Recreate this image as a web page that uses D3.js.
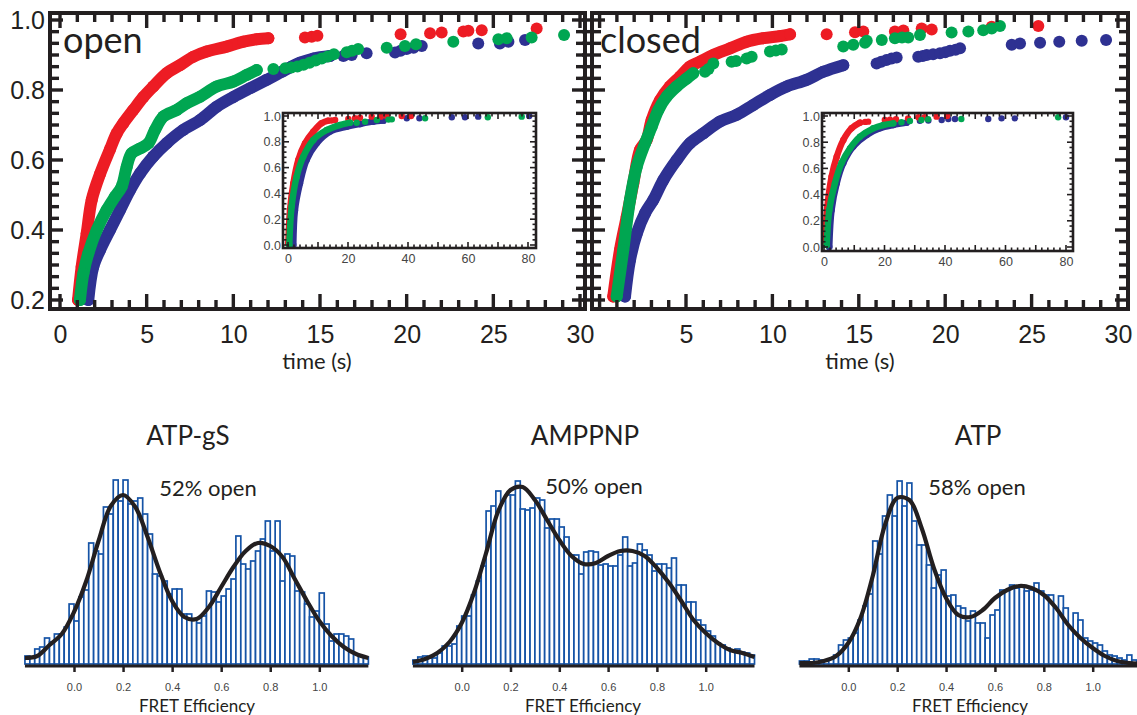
<!DOCTYPE html>
<html><head><meta charset="utf-8">
<script src="https://cdn.jsdelivr.net/npm/d3@7"></script>
<style>body{margin:0;background:#fff}svg{display:block}</style>
</head><body>
<svg id="c" width="1137" height="715"></svg>
<script>
// ---------------- DATA ----------------
const mainTicksX = [0,5,10,15,20,25,30];
const mainTicksXRight = [5,10,15,20,25,30];
const mainTicksY = [0.2,0.4,0.6,0.8,1.0];
const insetTicksX = [0,20,40,60,80];
const insetTicksY = [0.0,0.2,0.4,0.6,0.8,1.0];
const histTicks = [0.0,0.2,0.4,0.6,0.8,1.0];
const panelLabels = ["open","closed"];
const histTitles = ["ATP-gS","AMPPNP","ATP"];
const histOpenLabels = ["52% open","50% open","58% open"];

// cumulative fraction vs time (s): dense part ("trace") and isolated points ("dots")
const openRedTrace = [[1.04,0.20],[1.25,0.295],[1.54,0.39],[1.83,0.486],[2.31,0.56],[2.88,0.63],[3.27,0.676],[3.65,0.705],[4.23,0.743],[4.81,0.78],[5.38,0.81],[6.15,0.848],[6.92,0.871],[7.69,0.895],[8.46,0.91],[9.62,0.924],[10.58,0.938],[11.35,0.945],[12.02,0.948]];
const openRedDots = [[14.13,0.95],[14.52,0.952],[14.85,0.955],[19.65,0.959],[21.35,0.962],[22.02,0.964],[23.27,0.967],[23.56,0.969],[24.33,0.971],[27.5,0.976]];
const openBlueTrace = [[1.63,0.2],[1.92,0.295],[2.31,0.343],[2.88,0.4],[3.46,0.457],[4.04,0.514],[4.62,0.562],[5.38,0.61],[6.15,0.648],[7.11,0.686],[8.08,0.714],[9.04,0.752],[10.0,0.78],[10.96,0.805],[11.92,0.829],[12.8,0.852],[13.3,0.865],[13.85,0.878],[14.62,0.89],[15.58,0.897]];
const openBlueDots = [[16.35,0.897],[16.83,0.9],[17.69,0.905],[19.33,0.907],[19.65,0.912],[20.0,0.917],[20.4,0.921],[20.87,0.926],[24.13,0.933],[25.38,0.933],[25.87,0.938],[26.83,0.943]];
const openGreenTrace = [[1.15,0.2],[1.35,0.276],[1.63,0.333],[2.12,0.4],[2.69,0.457],[3.17,0.495],[3.56,0.524],[3.85,0.581],[4.13,0.619],[4.62,0.633],[5.1,0.648],[5.48,0.686],[5.96,0.724],[6.73,0.743],[7.31,0.762],[8.08,0.781],[9.04,0.81],[10.0,0.824],[10.77,0.843],[11.35,0.857]];
const openGreenDots = [[12.31,0.86],[13.0,0.862],[13.35,0.864],[13.7,0.867],[14.05,0.872],[14.4,0.878],[14.75,0.884],[15.1,0.89],[15.45,0.896],[15.8,0.902],[16.54,0.908],[16.85,0.912],[17.2,0.917],[18.85,0.921],[19.9,0.926],[20.54,0.931],[22.69,0.938],[25.29,0.945],[25.77,0.948],[27.21,0.95],[29.08,0.957]];

const closedRedTrace = [[0.79,0.21],[1.18,0.343],[1.57,0.438],[1.95,0.533],[2.34,0.629],[2.72,0.657],[3.01,0.714],[3.5,0.771],[4.07,0.81],[4.65,0.838],[5.23,0.867],[5.81,0.881],[6.58,0.9],[7.55,0.919],[8.51,0.938],[9.47,0.948],[10.44,0.954],[11.02,0.959]];
const closedRedDots = [[13.14,0.959],[14.78,0.965],[15.26,0.967],[17.09,0.967],[17.58,0.97],[18.64,0.976],[19.22,0.973],[22.69,0.981],[25.39,0.983]];
const closedGreenTrace = [[0.99,0.21],[1.37,0.343],[1.76,0.486],[2.15,0.581],[2.63,0.648],[3.01,0.695],[3.4,0.743],[3.88,0.781],[4.46,0.81],[5.04,0.833],[5.42,0.848]];
const closedGreenDots = [[6.1,0.852],[6.3,0.86],[6.58,0.876],[7.64,0.881],[7.9,0.883],[8.51,0.89],[8.8,0.895],[9.86,0.91],[10.2,0.913],[10.54,0.916],[14.1,0.924],[14.68,0.929],[15.36,0.935],[15.46,0.941],[16.33,0.943],[17.09,0.948],[17.5,0.95],[17.86,0.95],[18.54,0.957],[20.37,0.964],[21.34,0.967],[22.2,0.971],[22.69,0.976],[23.17,0.983]];
const closedBlueTrace = [[1.47,0.21],[1.76,0.314],[2.15,0.39],[2.63,0.448],[3.11,0.486],[3.69,0.543],[4.46,0.6],[5.23,0.648],[6.0,0.676],[6.97,0.71],[7.93,0.729],[8.89,0.757],[9.86,0.786],[10.83,0.81],[11.98,0.829],[12.94,0.852],[14.1,0.871]];
const closedBlueDots = [[16.03,0.876],[16.3,0.881],[16.6,0.886],[16.9,0.89],[17.19,0.893],[18.44,0.895],[18.7,0.897],[18.93,0.9],[19.3,0.902],[19.7,0.905],[20.0,0.908],[20.28,0.912],[20.6,0.915],[20.86,0.919],[23.85,0.929],[24.33,0.933],[25.49,0.935],[26.6,0.938],[27.9,0.941],[29.31,0.943]];

// insets (0-80 s)
const openInRedTrace = [[0.1,0.013],[0.67,0.271],[1.78,0.478],[3.44,0.659],[5.67,0.788],[8.44,0.879],[11.2,0.944],[13.4,0.964]];
const openInRedDots = [[14.5,0.965],[15.7,0.969],[20.1,0.977],[22.3,0.982],[24.0,0.987],[27.9,0.995],[30.9,0.995],[32.9,1.0],[37.9,1.0],[41.0,1.0]];
const openInBlueTrace = [[1.78,0.0],[2.33,0.27],[4.0,0.478],[6.2,0.659],[9.56,0.788],[14.0,0.879],[19.6,0.917],[24.0,0.938],[28.4,0.956],[31.8,0.964]];
const openInBlueDots = [[39.6,0.982],[43.8,0.982],[54.6,0.99],[59.0,0.99],[63.4,0.995],[80.4,1.0]];
const openInGreenTrace = [[0.43,0.0],[1.22,0.3],[2.89,0.53],[5.1,0.685],[8.44,0.814],[12.9,0.891],[17.3,0.93],[20.7,0.948]];
const openInGreenDots = [[22.9,0.948],[25.7,0.956],[29.6,0.969],[33.5,0.972],[34.6,0.974],[45.7,0.982],[66.6,0.99],[77.9,0.995]];

const closedInRedTrace = [[0.33,0.028],[1.1,0.307],[2.5,0.536],[4.2,0.689],[6.4,0.817],[9.1,0.906],[11.9,0.949]];
const closedInRedDots = [[13.6,0.955],[14.6,0.957],[20.1,0.969],[21.8,0.972],[23.8,0.975],[27.8,0.982],[31.2,0.99],[33.3,0.99],[37.2,0.995],[40.7,1.0]];
const closedInGreenTrace = [[0.9,0.015],[1.75,0.282],[3.6,0.486],[5.8,0.641],[8.6,0.753],[11.9,0.842],[16.3,0.906],[19.6,0.931],[22.9,0.944]];
const closedInGreenDots = [[25.6,0.952],[28.4,0.962],[32.2,0.969],[34.4,0.975],[45.4,0.977],[77.4,0.99]];
const closedInBlueTrace = [[1.75,0.0],[2.5,0.28],[4.2,0.486],[6.4,0.641],[9.7,0.768],[14.1,0.855],[18.5,0.906],[22.9,0.931],[27.3,0.949]];
const closedInBlueDots = [[31.7,0.964],[34.5,0.966],[38.9,0.969],[41.1,0.977],[43.3,0.977],[54.3,0.977],[58.7,0.982],[63.1,0.982],[80.0,0.99]];

// FRET histograms: bins of 0.02 from -0.2
const histStart = -0.2, histBin = 0.02;
const histATPgS = [8,7,15,17,26,22,30,30,37,60,43,67,74,121,113,110,157,150,184,163,184,160,163,166,150,130,90,88,83,70,75,75,50,50,45,41,48,73,72,62,68,75,85,128,100,95,103,113,125,143,113,143,83,110,108,73,72,60,47,53,71,40,23,30,30,28,25,10,8,7];
const histAMPPNP = [4,7,8,6,6,11,18,18,20,38,48,48,69,83,98,153,158,173,163,169,169,183,155,154,156,166,164,136,145,145,137,127,109,109,90,112,113,112,99,100,98,98,109,127,98,101,120,114,109,93,100,100,96,106,79,79,62,62,44,39,33,28,21,19,16,14,15,12,11,9];
const histATP = [3,3,5,5,4,4,5,9,19,24,26,31,44,58,70,123,110,148,169,148,183,158,181,143,119,119,99,76,89,94,68,69,58,56,43,53,41,41,26,49,54,74,74,79,76,79,73,74,81,73,69,69,56,68,56,36,51,44,26,23,21,19,13,9,8,6,4,9,4,3];
// fitted curves read at FRET = -0.2, -0.15, ..., 1.2
const fitX = [-0.2,-0.15,-0.1,-0.05,0.0,0.05,0.1,0.15,0.2,0.25,0.3,0.35,0.4,0.45,0.5,0.55,0.6,0.65,0.7,0.75,0.8,0.85,0.9,0.95,1.0,1.05,1.1,1.15,1.2];
const fitATPgS = [6,8,19,30,52,83,123,158,169,157,127,92,63,47,45,57,77,97,113,121,118,107,85,63,43,28,17,10,6];
const fitAMPPNP = [2,5,11,22,41,71,111,153,174,177,164,144,124,108,100,101,108,113,113,108,96,81,63,44,31,21,14,11,7];
const fitATP = [1,1,3,8,21,46,88,139,166,164,136,96,66,49,47,54,66,74,78,76,69,56,39,26,16,8,3,1,0];

// ---------------- DRAWING ----------------
const svg = d3.select("#c");
const INK = "#231f20";
const COL = {red:"#ed1c24", green:"#00a651", blue:"#2e3192"};
const NUMF = "'Liberation Sans', Arial, sans-serif";
const TXTF = "Lato, 'Open Sans', sans-serif";

function seriesDraw(g, x, y, trace, dots, color, r){
  const line = d3.line().x(d=>x(d[0])).y(d=>y(d[1])).curve(d3.curveCatmullRom);
  g.append("path").attr("d", line(trace)).attr("fill","none").attr("stroke",color)
    .attr("stroke-width", 2*r).attr("stroke-linecap","round").attr("stroke-linejoin","round");
  g.selectAll(null).data(trace.concat(dots)).enter().append("circle")
    .attr("cx",d=>x(d[0])).attr("cy",d=>y(d[1])).attr("r",r).attr("fill",color);
}

function mainPanel(cfg){
  const g = svg.append("g");
  const x = d3.scaleLinear().domain([0,30]).range(cfg.xr);
  const y = d3.scaleLinear().domain([0.2,1.0]).range([300,20]);
  const [fx0,fx1,fy0,fy1] = cfg.frame;
  const dg = g.append("g");
  cfg.series.forEach(s=>seriesDraw(dg,x,y,s[0],s[1],s[2],6));
  g.append("rect").attr("x",fx0).attr("y",fy0).attr("width",fx1-fx0).attr("height",fy1-fy0)
    .attr("fill","none").attr("stroke",INK).attr("stroke-width",4);
  const tg = g.append("g").attr("stroke",INK).attr("stroke-width",3.4);
  d3.range(0,31).forEach(v=>{
    const L = v%5===0?15:9;
    tg.append("line").attr("x1",x(v)).attr("x2",x(v)).attr("y1",fy1).attr("y2",fy1-L);
    tg.append("line").attr("x1",x(v)).attr("x2",x(v)).attr("y1",fy0).attr("y2",fy0+L);
  });
  d3.range(0,25).forEach(i=>{
    const v = 0.2 + i*0.2/6, L = i%6===0?13:9;
    tg.append("line").attr("x1",fx0-cfg.leftOut).attr("x2",fx0+L).attr("y1",y(v)).attr("y2",y(v));
    tg.append("line").attr("x1",fx1).attr("x2",fx1-L).attr("y1",y(v)).attr("y2",y(v));
  });
  const ax = g.append("g").attr("transform",`translate(0,${fy1})`)
    .call(d3.axisBottom(x).tickValues(cfg.xticks).tickSize(0).tickPadding(16).tickFormat(d3.format("d")));
  ax.select(".domain").remove();
  ax.selectAll("text").attr("font-family",NUMF).attr("font-size",25).attr("fill",INK);
  if (cfg.yLabels){
    const ay = g.append("g").attr("transform",`translate(${fx0},0)`)
      .call(d3.axisLeft(y).tickValues(mainTicksY).tickSize(0).tickPadding(5).tickFormat(d3.format(".1f")));
    ay.select(".domain").remove();
    ay.selectAll("text").attr("font-family",NUMF).attr("font-size",25).attr("fill",INK);
  }
  g.append("text").attr("x",cfg.xlab[0]).attr("y",cfg.xlab[1]).attr("text-anchor","middle")
    .attr("font-family",TXTF).attr("font-size",22).attr("fill",INK).text("time (s)");
  g.append("text").attr("x",cfg.name[0]).attr("y",cfg.name[1])
    .attr("font-family",TXTF).attr("font-size",36).attr("fill",INK).text(cfg.label);
  insetPanel(cfg.inset);
}

function insetPanel(c){
  const g = svg.append("g");
  const x = d3.scaleLinear().domain([0,80]).range(c.xr);
  const y = d3.scaleLinear().domain([0,1]).range(c.yr);
  const [fx0,fx1,fy0,fy1] = c.frame;
  g.append("rect").attr("x",fx0).attr("y",fy0).attr("width",fx1-fx0).attr("height",fy1-fy0).attr("fill","#fff");
  const dg = g.append("g");
  c.series.forEach(s=>seriesDraw(dg,x,y,s[0],s[1],s[2],3.2));
  g.append("rect").attr("x",fx0).attr("y",fy0).attr("width",fx1-fx0).attr("height",fy1-fy0)
    .attr("fill","none").attr("stroke",INK).attr("stroke-width",2.6);
  const tg = g.append("g").attr("stroke",INK).attr("stroke-width",1.6);
  d3.range(0,82,2).forEach(v=>{
    const L = v%10===0?6:3.5;
    tg.append("line").attr("x1",x(v)).attr("x2",x(v)).attr("y1",fy1).attr("y2",fy1-L);
    tg.append("line").attr("x1",x(v)).attr("x2",x(v)).attr("y1",fy0).attr("y2",fy0+L);
  });
  d3.range(0,26).forEach(i=>{
    const v=i*0.04, L = i%5===0?6:3.5;
    tg.append("line").attr("x1",fx0).attr("x2",fx0+L).attr("y1",y(v)).attr("y2",y(v));
    tg.append("line").attr("x1",fx1).attr("x2",fx1-L).attr("y1",y(v)).attr("y2",y(v));
  });
  const ax = g.append("g").attr("transform",`translate(0,${fy1})`)
    .call(d3.axisBottom(x).tickValues(insetTicksX).tickSize(0).tickPadding(6).tickFormat(d3.format("d")));
  ax.select(".domain").remove();
  ax.selectAll("text").attr("font-family",NUMF).attr("font-size",12.5).attr("fill","#444");
  const ay = g.append("g").attr("transform",`translate(${fx0},0)`)
    .call(d3.axisLeft(y).tickValues(insetTicksY).tickSize(0).tickPadding(2).tickFormat(d3.format(".1f")));
  ay.select(".domain").remove();
  ay.selectAll("text").attr("font-family",NUMF).attr("font-size",12.5).attr("fill","#444");
}

mainPanel({
  xr:[60,580], frame:[50,585,13,309], leftOut:0, yLabels:true, xticks:mainTicksX,
  xlab:[317,369], name:[63,53], label:panelLabels[0],
  series:[[openBlueTrace,openBlueDots,COL.blue],[openRedTrace,openRedDots,COL.red],[openGreenTrace,openGreenDots,COL.green]],
  inset:{xr:[288,528], yr:[245,116], frame:[283,536,113,248],
    series:[[openInBlueTrace,openInBlueDots,COL.blue],[openInRedTrace,openInRedDots,COL.red],[openInGreenTrace,openInGreenDots,COL.green]]}
});
mainPanel({
  xr:[599.6,1118], frame:[592,1128,13,309], leftOut:10, yLabels:false, xticks:mainTicksXRight,
  xlab:[860,369], name:[600,53], label:panelLabels[1],
  series:[[closedBlueTrace,closedBlueDots,COL.blue],[closedRedTrace,closedRedDots,COL.red],[closedGreenTrace,closedGreenDots,COL.green]],
  inset:{xr:[824,1066], yr:[247,116], frame:[822,1073,113,251],
    series:[[closedInBlueTrace,closedInBlueDots,COL.blue],[closedInRedTrace,closedInRedDots,COL.red],[closedInGreenTrace,closedInGreenDots,COL.green]]}
});

// histograms
const hists = [
  {counts:histATPgS, fit:fitATPgS, xr:[74,319.3], title:[188,445], pct:[208,496], xl:[197,712]},
  {counts:histAMPPNP, fit:fitAMPPNP, xr:[461.7,705.7], title:[585,445], pct:[594,494], xl:[583,712]},
  {counts:histATP, fit:fitATP, xr:[848.3,1092.7], title:[978,445], pct:[977,495], xl:[970,712]}
];
hists.forEach((h,i)=>{
  const g = svg.append("g");
  const x = d3.scaleLinear().domain([0,1]).range(h.xr);
  const y = d3.scaleLinear().domain([0,200]).range([664,464]);
  g.selectAll("rect").data(h.counts).enter().append("rect")
    .attr("x",(d,k)=>x(histStart+k*histBin)).attr("width",x(histBin)-x(0))
    .attr("y",d=>y(d)).attr("height",d=>y(0)-y(d))
    .attr("fill","#fff").attr("stroke","#1553a6").attr("stroke-width",1.7);
  g.append("line").attr("x1",x(-0.2)).attr("x2",x(1.2)).attr("y1",666).attr("y2",666)
    .attr("stroke",INK).attr("stroke-width",3);
  const fitPts = fitX.map((v,k)=>[v,h.fit[k]]);
  g.append("path").attr("d", d3.line().x(d=>x(d[0])).y(d=>y(d[1])).curve(d3.curveCatmullRom)(fitPts))
    .attr("fill","none").attr("stroke",INK).attr("stroke-width",4.2);
  const ax = g.append("g").attr("transform","translate(0,666)")
    .call(d3.axisBottom(x).tickValues(histTicks).tickSize(6).tickPadding(11).tickFormat(d3.format(".1f")));
  ax.select(".domain").remove();
  ax.selectAll("line").attr("stroke",INK).attr("stroke-width",2.5);
  ax.selectAll("text").attr("font-family",NUMF).attr("font-size",11).attr("fill","#444");
  g.append("text").attr("x",h.title[0]).attr("y",h.title[1]).attr("text-anchor","middle")
    .attr("font-family",TXTF).attr("font-size",26).attr("fill",INK).text(histTitles[i]);
  g.append("text").attr("x",h.pct[0]).attr("y",h.pct[1]).attr("text-anchor","middle")
    .attr("font-family",TXTF).attr("font-size",22).attr("fill",INK).text(histOpenLabels[i]);
  g.append("text").attr("x",h.xl[0]).attr("y",h.xl[1]).attr("text-anchor","middle")
    .attr("font-family",TXTF).attr("font-size",17).attr("fill",INK).text("FRET Efficiency");
});
</script>
</body></html>
